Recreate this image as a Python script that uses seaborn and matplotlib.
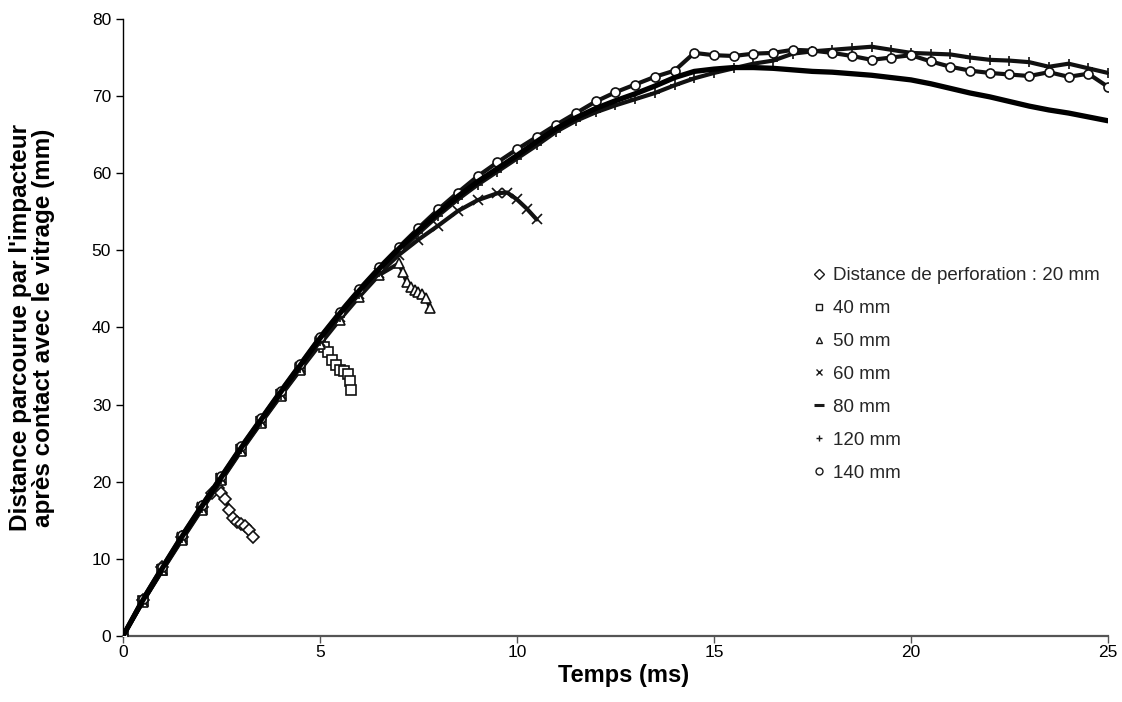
import numpy as np
import pandas as pd
import matplotlib
matplotlib.use("Agg")
import matplotlib.pyplot as plt
from matplotlib.lines import Line2D
import seaborn as sns

# temps communs (ms) pour les essais longs
temps_long = [0, 0.5, 1, 1.5, 2, 2.5, 3, 3.5, 4, 4.5, 5, 5.5, 6, 6.5, 7, 7.5, 8, 8.5,
              9, 9.5, 10, 10.5, 11, 11.5, 12, 12.5, 13, 13.5, 14, 14.5, 15, 15.5,
              16, 16.5, 17, 17.5, 18, 18.5, 19, 19.5, 20, 20.5, 21, 21.5, 22, 22.5,
              23, 23.5, 24, 24.5, 25]

t_20 = [0, 0.5, 1.0, 1.5, 2.0, 2.25, 2.4, 2.5, 2.6, 2.7, 2.8, 2.9, 3.0, 3.1, 3.2, 3.3]
d_20 = [0, 4.7, 8.9, 12.8, 16.7, 18.5, 19.2, 18.6, 17.8, 16.4, 15.3, 14.8, 14.5, 14.2, 13.8, 12.8]

t_40 = [0, 0.5, 1, 1.5, 2, 2.5, 3, 3.5, 4, 4.5, 5, 5.1, 5.2, 5.3, 5.4, 5.5, 5.6, 5.7, 5.75, 5.8]
d_40 = [0, 4.5, 8.6, 12.6, 16.5, 20.3, 24.1, 27.7, 31.2, 34.6, 38.0, 37.5, 36.8, 35.8, 35.1,
        34.5, 34.4, 34.0, 33.0, 31.9]

t_50 = [0, 0.5, 1, 1.5, 2, 2.5, 3, 3.5, 4, 4.5, 5, 5.5, 6, 6.5, 7.0, 7.1, 7.2, 7.3, 7.4,
        7.5, 7.6, 7.7, 7.8]
d_50 = [0, 4.4, 8.5, 12.5, 16.4, 20.2, 24.0, 27.6, 31.1, 34.5, 37.8, 41.0, 44.0, 46.8,
        48.3, 47.2, 45.9, 45.2, 44.9, 44.6, 44.4, 43.8, 42.5]

t_60 = [0, 0.5, 1, 1.5, 2, 2.5, 3, 3.5, 4, 4.5, 5, 5.5, 6, 6.5, 7, 7.5, 8, 8.5, 9, 9.5,
        9.75, 10, 10.25, 10.5]
d_60 = [0, 4.5, 8.7, 12.8, 16.7, 20.5, 24.3, 27.9, 31.4, 34.9, 38.3, 41.4, 44.4, 47.0,
        49.4, 51.4, 53.2, 55.1, 56.5, 57.4, 57.5, 56.6, 55.4, 54.0]

d_80 = [0, 4.6, 8.8, 12.9, 16.8, 20.6, 24.4, 28.0, 31.6, 35.1, 38.6, 41.8, 44.8, 47.6,
        50.2, 52.6, 54.9, 57.0, 58.9, 60.6, 62.3, 64.1, 65.8, 67.2, 68.4, 69.4, 70.3,
        71.3, 72.4, 73.2, 73.5, 73.7, 73.7, 73.6, 73.4, 73.2, 73.1, 72.9, 72.7, 72.4,
        72.1, 71.6, 71.0, 70.4, 69.9, 69.3, 68.7, 68.2, 67.8, 67.3, 66.8]

d_120 = [0, 4.4, 8.6, 12.7, 16.6, 20.4, 24.2, 27.8, 31.3, 34.8, 38.2, 41.4, 44.4, 47.2,
         49.8, 52.2, 54.5, 56.6, 58.5, 60.2, 61.9, 63.6, 65.4, 66.8, 67.9, 68.8, 69.6,
         70.4, 71.4, 72.3, 73.0, 73.6, 74.2, 74.6, 75.5, 75.8, 76.0, 76.2, 76.4, 76.0,
         75.6, 75.5, 75.4, 75.0, 74.7, 74.6, 74.4, 73.8, 74.2, 73.6, 73.0]

d_140 = [0, 4.8, 9.0, 13.1, 17.0, 20.8, 24.6, 28.2, 31.8, 35.3, 38.8, 42.0, 45.0, 47.8,
         50.4, 52.9, 55.3, 57.5, 59.6, 61.4, 63.1, 64.7, 66.3, 67.8, 69.3, 70.5, 71.5,
         72.5, 73.3, 75.6, 75.3, 75.2, 75.5, 75.6, 76.0, 75.9, 75.6, 75.2, 74.7, 75.0,
         75.3, 74.5, 73.8, 73.3, 73.0, 72.8, 72.6, 73.1, 72.5, 72.9, 71.2]

labels = ["Distance de perforation : 20 mm", "40 mm", "50 mm", "60 mm",
          "80 mm", "120 mm", "140 mm"]
series_t = [t_20, t_40, t_50, t_60, temps_long, temps_long, temps_long]
series_d = [d_20, d_40, d_50, d_60, d_80, d_120, d_140]
markers = ["D", "s", "^", "x", "_", "+", "o"]

frames = []
for lab, t, d in zip(labels, series_t, series_d):
    frames.append(pd.DataFrame({"temps": t, "distance": d, "essai": lab}))
df = pd.concat(frames, ignore_index=True)

sns.set_style("white")
plt.rcParams["font.family"] = ["Liberation Sans", "DejaVu Sans"]

fig = plt.figure(figsize=(11.22, 7.02), dpi=100)
ax = fig.add_axes([0.1096, 0.094, 0.8779, 0.879])

# ordre de trace : les longs d'abord, les courts par-dessus
order = [4, 5, 6, 3, 2, 1, 0]
for i in order:
    sub = df[df["essai"] == labels[i]]
    if markers[i] == "_":
        sns.lineplot(data=sub, x="temps", y="distance", ax=ax, color="black",
                     linewidth=3.8, estimator=None, sort=False, zorder=3)
    else:
        sns.lineplot(data=sub, x="temps", y="distance", ax=ax, color="#111111",
                     linewidth=3.0, estimator=None, sort=False, zorder=2 + i * 0.1,
                     marker=markers[i], markersize=6.5, markerfacecolor="white",
                     markeredgecolor="#111111", markeredgewidth=1.2)

ax.set_xlim(0, 25)
ax.set_ylim(0, 80)
ax.set_xticks([0, 5, 10, 15, 20, 25])
ax.set_yticks(range(0, 81, 10))
ax.tick_params(axis="both", direction="out", length=5, width=1, labelsize=12.5,
               colors="black", bottom=True, left=True)
ax.tick_params(axis="x", pad=1.5, color="#555555")
for side in ["top", "right"]:
    ax.spines[side].set_visible(False)
ax.spines["left"].set_color("black")
ax.spines["left"].set_linewidth(1.0)
ax.spines["bottom"].set_color("#555555")
ax.spines["bottom"].set_linewidth(1.6)

ax.set_xlabel("Temps (ms)", fontsize=17, fontweight="bold", va="top", color="black")
ax.xaxis.set_label_coords(0.508, -0.046)
ax.set_ylabel("Distance parcourue par l'impacteur\naprès contact avec le vitrage (mm)",
              fontsize=17.5, fontweight="bold", linespacing=0.98, color="black")
ax.yaxis.set_label_coords(-0.069, 0.5)

handles = [Line2D([], [], marker=m, linestyle="none", color="#1a1a1a",
                  markerfacecolor="white", markersize=5 if m != "_" else 7,
                  markeredgewidth=1.0 if m != "_" else 2.2)
           for m in markers]
ax.legend(handles, labels, loc="upper left", bbox_to_anchor=(0.718, 0.63),
          bbox_transform=fig.transFigure, frameon=False, fontsize=13.5,
          handlelength=0.6, handletextpad=0.45, labelspacing=0.84, borderaxespad=0)

fig.savefig("out.png", dpi=100, facecolor="white")
